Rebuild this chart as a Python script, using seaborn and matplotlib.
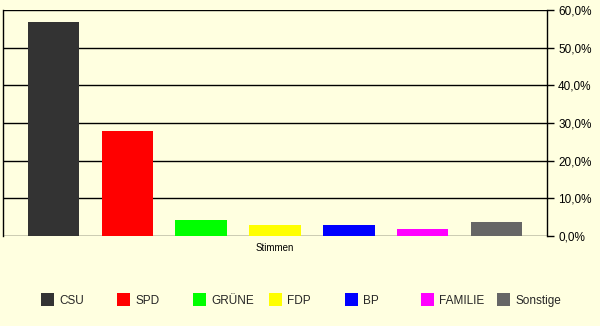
import matplotlib
matplotlib.use("Agg")
import matplotlib.pyplot as plt
import seaborn as sns
import pandas as pd
from matplotlib.ticker import FixedLocator, FixedFormatter

parties = ["CSU", "SPD", "GRÜNE", "FDP", "BP", "FAMILIE", "Sonstige"]
values = [56.8, 27.9, 4.2, 2.9, 2.9, 1.9, 3.7]
colors = ["#333333", "#FF0000", "#00FF00", "#FFFF00", "#0000FF", "#FF00FF", "#666666"]
category = "Stimmen"
yticks = [0, 10, 20, 30, 40, 50, 60]
ytick_labels = ["0,0%", "10,0%", "20,0%", "30,0%", "40,0%", "50,0%", "60,0%"]

df = pd.DataFrame({"Kategorie": [category] * len(parties), "Partei": parties, "Wert": values})

bg = "#FFFFE0"
sns.set_style("white")
plt.rcParams["font.family"] = ["Liberation Sans", "DejaVu Sans"]

fig = plt.figure(figsize=(6.0, 3.26), dpi=100, facecolor=bg)
ax = fig.add_axes([3 / 600, 1 - 236 / 326, 544 / 600, 226 / 326])
ax.set_facecolor(bg)

sns.barplot(data=df, x="Kategorie", y="Wert", hue="Partei", hue_order=parties,
            palette=colors, width=0.952, gap=0.31, saturation=1, ax=ax,
            linewidth=0, errorbar=None, legend=True)
handles, labels = ax.get_legend_handles_labels()
ax.get_legend().remove()

ax.set_xlim(-0.5, 0.5)
ax.set_ylim(0, 60)
ax.set_xlabel("")
ax.set_ylabel("")

# y axis on right
ax.yaxis.tick_right()
ax.yaxis.set_major_locator(FixedLocator(yticks))
ax.yaxis.set_major_formatter(FixedFormatter(ytick_labels))
ax.tick_params(axis="y", direction="out", length=5, width=1, color="black",
               labelsize=8.5, pad=3, labelcolor="black", right=True, left=False)
ax.grid(axis="y", color="black", linewidth=1)
ax.set_axisbelow(True)

# x axis
ax.set_xticks([0])
ax.set_xticklabels([category])
ax.tick_params(axis="x", length=0, labelsize=7, pad=5, labelcolor="black")
ax.set_xticks([-0.5, 0.5], minor=True)
ax.tick_params(axis="x", which="minor", direction="out", length=11, width=1, color="black")

for s in ["top", "bottom"]:
    ax.spines[s].set_visible(False)
for s in ["left", "right"]:
    ax.spines[s].set_visible(True)
    ax.spines[s].set_color("black")
    ax.spines[s].set_linewidth(1)

# legend entries at fixed spacing
for i, (h, l) in enumerate(zip(handles, labels)):
    x0 = (41 + 76 * i) / 600
    fig.legend(handles=[h], labels=[l], loc="center left", bbox_to_anchor=(x0, 1 - 300 / 326),
               frameon=False, fontsize=8.5, handlelength=1.1, handleheight=1.2,
               handletextpad=0.45, borderpad=0, borderaxespad=0)

fig.savefig("out.png", dpi=100, facecolor=bg)
